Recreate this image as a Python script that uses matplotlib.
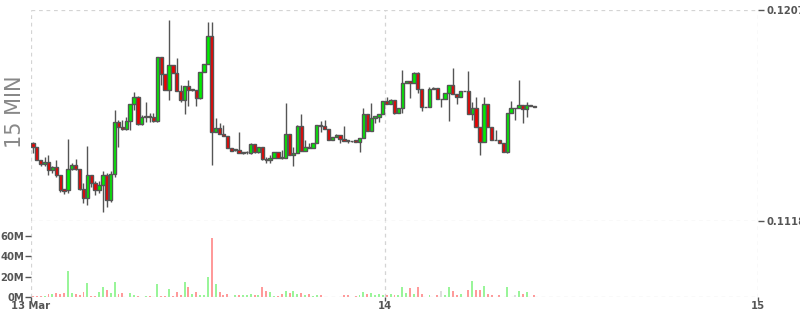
import pandas as pd
import matplotlib
matplotlib.use("Agg")
import matplotlib.pyplot as plt
import matplotlib.dates as mdates

# 15 minute candles, 13 Mar 01:15 -> 14 Mar 09:30
start = "2024-03-13 01:15"
opens = [0.11509, 0.11492, 0.11437, 0.11420, 0.11428, 0.11395, 0.11407, 0.11374, 0.11314, 0.11310,
         0.11399, 0.11416, 0.11399, 0.11314, 0.11276, 0.11374, 0.11340, 0.11310, 0.11331, 0.11374,
         0.11268, 0.11378, 0.11597, 0.11576, 0.11568, 0.11602, 0.11673, 0.11703, 0.11589, 0.11618,
         0.11622, 0.11618, 0.11602, 0.11871, 0.11800, 0.11732, 0.11838, 0.11804, 0.11728, 0.11690,
         0.11749, 0.11732, 0.11732, 0.11698, 0.11808, 0.11842, 0.11960, 0.11555, 0.11572, 0.11547,
         0.11538, 0.11488, 0.11479, 0.11479, 0.11467, 0.11469, 0.11467, 0.11504, 0.11471, 0.11492,
         0.11441, 0.11437, 0.11445, 0.11471, 0.11450, 0.11445, 0.11547, 0.11458, 0.11467, 0.11580,
         0.11475, 0.11492, 0.11488, 0.11509, 0.11585, 0.11580, 0.11568, 0.11521, 0.11534, 0.11543,
         0.11526, 0.11521, 0.11518, 0.11521, 0.11513, 0.11530, 0.11631, 0.11559, 0.11614, 0.11618,
         0.11631, 0.11686, 0.11673, 0.11690, 0.11635, 0.11656, 0.11762, 0.11770, 0.11762, 0.11804,
         0.11736, 0.11661, 0.11660, 0.11736, 0.11741, 0.11694, 0.11694, 0.11720, 0.11753, 0.11715,
         0.11703, 0.11728, 0.11728, 0.11631, 0.11656, 0.11576, 0.11513, 0.11673, 0.11576, 0.11522,
         0.11521, 0.11509, 0.11471, 0.11635, 0.11657, 0.11656, 0.11669, 0.11652, 0.11669, 0.11665]
highs = [0.11513, 0.11492, 0.11437, 0.11450, 0.11458, 0.11412, 0.11437, 0.11374, 0.11314, 0.11526,
         0.11424, 0.11441, 0.11399, 0.11340, 0.11496, 0.11374, 0.11348, 0.11348, 0.11391, 0.11382,
         0.11391, 0.11648, 0.11606, 0.11606, 0.11618, 0.11673, 0.11724, 0.11707, 0.11627, 0.11682,
         0.11635, 0.11635, 0.11871, 0.11871, 0.11800, 0.12028, 0.11838, 0.11867, 0.11753, 0.11749,
         0.11774, 0.11736, 0.11732, 0.11808, 0.11842, 0.12019, 0.12019, 0.11614, 0.11593, 0.11585,
         0.11538, 0.11488, 0.11483, 0.11555, 0.11471, 0.11475, 0.11509, 0.11504, 0.11492, 0.11492,
         0.11450, 0.11458, 0.11471, 0.11471, 0.11479, 0.11677, 0.11547, 0.11492, 0.11585, 0.11631,
         0.11521, 0.11509, 0.11509, 0.11585, 0.11602, 0.11606, 0.11568, 0.11534, 0.11547, 0.11543,
         0.11580, 0.11521, 0.11519, 0.11521, 0.11530, 0.11656, 0.11631, 0.11677, 0.11622, 0.11631,
         0.11686, 0.11703, 0.11694, 0.11690, 0.11656, 0.11817, 0.11770, 0.11770, 0.11808, 0.11808,
         0.11736, 0.11662, 0.11745, 0.11745, 0.11741, 0.11695, 0.11720, 0.11753, 0.11825, 0.11715,
         0.11728, 0.11729, 0.11812, 0.11682, 0.11703, 0.11576, 0.11703, 0.11673, 0.11576, 0.11563,
         0.11521, 0.11509, 0.11635, 0.11686, 0.11657, 0.11774, 0.11669, 0.11682, 0.11669, 0.11665]
lows = [0.11467, 0.11437, 0.11412, 0.11412, 0.11374, 0.11382, 0.11365, 0.11302, 0.11293, 0.11298,
        0.11395, 0.11395, 0.11310, 0.11255, 0.11247, 0.11323, 0.11289, 0.11298, 0.11217, 0.11238,
        0.11259, 0.11365, 0.11492, 0.11563, 0.11563, 0.11563, 0.11648, 0.11585, 0.11585, 0.11597,
        0.11597, 0.11597, 0.11597, 0.11753, 0.11732, 0.11690, 0.11804, 0.11728, 0.11682, 0.11631,
        0.11665, 0.11728, 0.11665, 0.11694, 0.11808, 0.11842, 0.11416, 0.11555, 0.11547, 0.11538,
        0.11488, 0.11475, 0.11475, 0.11467, 0.11462, 0.11462, 0.11462, 0.11467, 0.11467, 0.11437,
        0.11424, 0.11424, 0.11445, 0.11445, 0.11441, 0.11445, 0.11458, 0.11412, 0.11467, 0.11475,
        0.11475, 0.11488, 0.11488, 0.11509, 0.11555, 0.11568, 0.11521, 0.11521, 0.11534, 0.11509,
        0.11517, 0.11509, 0.11515, 0.11513, 0.11471, 0.11530, 0.11559, 0.11559, 0.11593, 0.11597,
        0.11631, 0.11673, 0.11673, 0.11631, 0.11635, 0.11635, 0.11762, 0.11698, 0.11762, 0.11720,
        0.11644, 0.11659, 0.11660, 0.11736, 0.11694, 0.11660, 0.11694, 0.11602, 0.11715, 0.11673,
        0.11703, 0.11727, 0.11631, 0.11606, 0.11576, 0.11458, 0.11513, 0.11576, 0.11521, 0.11521,
        0.11509, 0.11471, 0.11467, 0.11635, 0.11606, 0.11656, 0.11593, 0.11618, 0.11665, 0.11660]
closes = [0.11492, 0.11437, 0.11420, 0.11428, 0.11395, 0.11407, 0.11374, 0.11310, 0.11306, 0.11399,
          0.11416, 0.11399, 0.11314, 0.11276, 0.11374, 0.11340, 0.11310, 0.11331, 0.11374, 0.11268,
          0.11378, 0.11597, 0.11576, 0.11568, 0.11602, 0.11673, 0.11703, 0.11589, 0.11618, 0.11622,
          0.11618, 0.11602, 0.11871, 0.11800, 0.11732, 0.11838, 0.11804, 0.11728, 0.11690, 0.11749,
          0.11732, 0.11736, 0.11698, 0.11808, 0.11842, 0.11960, 0.11555, 0.11572, 0.11547, 0.11538,
          0.11488, 0.11475, 0.11483, 0.11467, 0.11471, 0.11471, 0.11504, 0.11471, 0.11492, 0.11441,
          0.11437, 0.11445, 0.11471, 0.11445, 0.11445, 0.11547, 0.11458, 0.11467, 0.11580, 0.11475,
          0.11492, 0.11488, 0.11509, 0.11585, 0.11580, 0.11568, 0.11521, 0.11534, 0.11543, 0.11526,
          0.11517, 0.11517, 0.11517, 0.11513, 0.11530, 0.11631, 0.11559, 0.11614, 0.11622, 0.11631,
          0.11686, 0.11673, 0.11690, 0.11635, 0.11656, 0.11762, 0.11770, 0.11762, 0.11804, 0.11736,
          0.11660, 0.11660, 0.11736, 0.11741, 0.11694, 0.11695, 0.11720, 0.11753, 0.11715, 0.11703,
          0.11728, 0.11728, 0.11631, 0.11656, 0.11576, 0.11513, 0.11673, 0.11576, 0.11521, 0.11521,
          0.11509, 0.11471, 0.11635, 0.11656, 0.11656, 0.11669, 0.11652, 0.11669, 0.11665, 0.11660]
# volume in millions
volumes = [1, 1, 1, 1, 3, 3, 4, 3, 4, 26,
           4, 3, 2, 5, 14, 1, 1, 5, 10, 7,
           4, 15, 3, 4, 0.5, 4, 2, 1, 0.3, 1,
           1, 0.5, 13, 1, 1, 8, 1, 5, 2, 15,
           10, 3, 5, 2, 2, 20, 58, 13, 5, 2,
           3, 0.5, 2, 2, 2, 2, 3, 2, 2, 10,
           6, 5, 1, 1, 3, 6, 4, 6, 3, 4,
           2, 3, 1, 2, 2, 0.5, 0.5, 0.5, 0.5, 0.5,
           2, 2, 0.5, 1, 2, 5, 3, 4, 2, 3,
           2, 2, 3, 2, 2, 10, 4, 9, 3, 10,
           3, 0.5, 2, 0.5, 2, 6, 2, 10, 6, 2,
           3, 0.5, 7, 16, 7, 7, 11, 3, 2, 0.5,
           2, 0.5, 10, 0.5, 2, 6, 3, 5, 0.5, 2]

price_ticks = [0.1118, 0.1207]
vol_ticks = [0, 20, 40, 60]
vol_labels = ["0M", "20M", "40M", "60M"]
day_labels = ["13 Mar", "14", "15"]

UP = "#00ee00"
DOWN = "#ee0000"
EDGE = "#555555"
GRID = "#d4d4d4"
TXT = "#555555"


def main():
    times = pd.date_range(start, periods=len(opens), freq="15min")
    step = 15 / (24 * 60)
    x = mdates.date2num(times) + step / 2
    x_end = mdates.date2num(pd.Timestamp("2024-03-15"))
    x_start = mdates.date2num(times[0])
    x_mid = mdates.date2num(pd.Timestamp("2024-03-14"))

    fig = plt.figure(figsize=(8, 3.15), dpi=100)
    ax = fig.add_axes([0.03875, 0.2984, 0.90875, 0.6698])
    axv = fig.add_axes([0.03875, 0.0571, 0.90875, 0.2413], sharex=ax)

    body_fill = []
    for o, c in zip(opens, closes):
        body_fill.append(UP if c >= o else DOWN)
    ax.vlines(x, lows, highs, color=EDGE, linewidth=1, zorder=2)
    heights = [max(abs(c - o), 0.000012) for o, c in zip(opens, closes)]
    bottoms = [min(o, c) for o, c in zip(opens, closes)]
    ax.bar(x, heights, bottom=bottoms, width=step * 0.85, color=body_fill,
           edgecolor=EDGE, linewidth=1, zorder=3)

    vcol = []
    for o, c in zip(opens, closes):
        if abs(c - o) < 0.000015:
            vcol.append("#dddddd")
        elif c > o:
            vcol.append("#99f599")
        else:
            vcol.append("#ff9a9a")
    axv.bar(x, volumes, width=step * 0.5, color=vcol, zorder=2)

    for a in (ax, axv):
        for s in a.spines.values():
            s.set_visible(False)
        for xv in (x_start, x_mid, x_end):
            a.axvline(xv, color=GRID, linewidth=0.9, linestyle=(0, (3, 3)), zorder=1)
    ax.axhline(price_ticks[1], color=GRID, linewidth=0.9, linestyle=(0, (3, 3)))
    ax.axhline(price_ticks[0], color=GRID, linewidth=0.9, linestyle=(0, (3, 3)))
    axv.axhline(0, color=GRID, linewidth=0.9, linestyle=(0, (3, 3)))

    ax.set_xlim(x_start, x_end)
    ax.set_ylim(price_ticks[0], price_ticks[1])
    ax.yaxis.tick_right()
    ax.set_yticks(price_ticks)
    ax.set_yticklabels([f"{p:.4f}" for p in price_ticks], fontsize=7.2,
                       fontweight="bold", color=TXT)
    ax.tick_params(axis="y", length=4, width=1, color=TXT, pad=2)
    ax.tick_params(axis="x", bottom=False, labelbottom=False)

    axv.set_ylim(0, 75)
    axv.set_yticks(vol_ticks)
    axv.set_yticklabels(vol_labels, fontsize=7.2, fontweight="bold", color=TXT)
    axv.tick_params(axis="y", length=4, width=1, color=TXT, pad=1)
    axv.set_xticks([x_start, x_mid, x_end])
    axv.set_xticklabels(day_labels, fontsize=7.2, fontweight="bold", color=TXT)
    axv.tick_params(axis="x", length=3, width=1, color=TXT, pad=0)

    fig.text(0.019, 0.645, "15 MIN", rotation=90, ha="center", va="center",
             fontsize=15, color="#888888")

    fig.savefig("out.png", dpi=100)


if __name__ == "__main__":
    main()
